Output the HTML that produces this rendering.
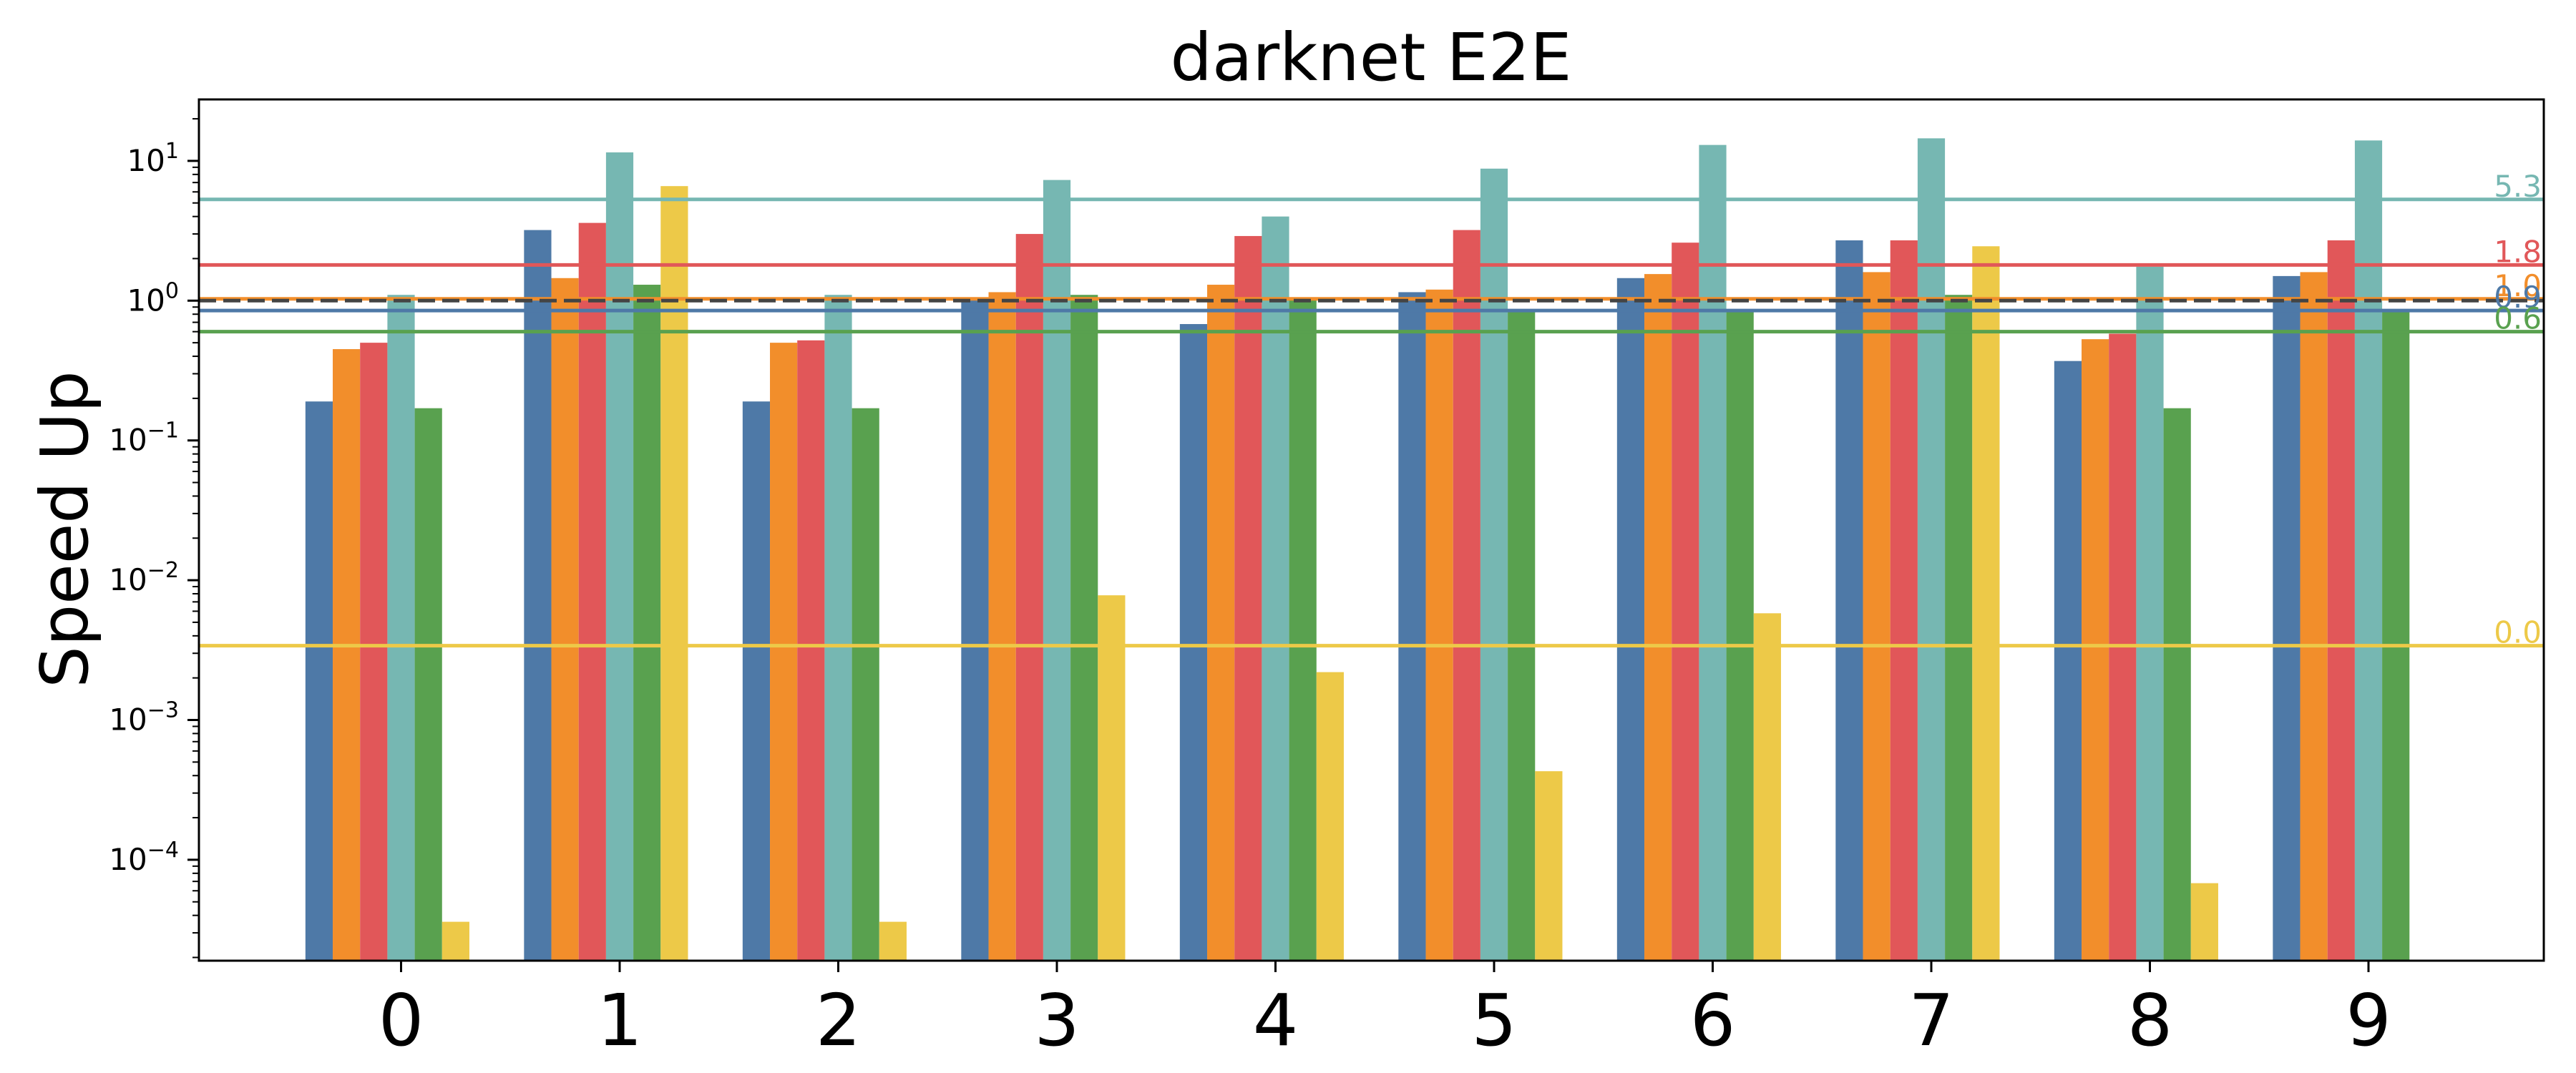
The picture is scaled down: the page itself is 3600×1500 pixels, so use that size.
<!DOCTYPE html>
<html><head><meta charset="utf-8"><style>
html,body{margin:0;padding:0;background:#fff;}
svg{display:block;font-family:"DejaVu Sans","Liberation Sans",sans-serif;}
</style></head><body>
<svg id="chart" width="3600" height="1500" xmlns="http://www.w3.org/2000/svg">
<text x="1916" y="112" font-size="92" text-anchor="middle">darknet E2E</text>
<text x="0" y="0" font-size="92" text-anchor="middle" transform="translate(122,740) rotate(-90)">Speed Up</text>
<g id="bars"></g>
<g id="hlines"></g>
<g id="axes"></g>
</svg>
<script>
const categories = ["0","1","2","3","4","5","6","7","8","9"];
const seriesBlue   = [0.19, 3.2, 0.19, 1.05, 0.68, 1.15, 1.45, 2.7, 0.37, 1.5];
const seriesOrange = [0.45, 1.45, 0.5, 1.15, 1.3, 1.2, 1.55, 1.6, 0.53, 1.6];
const seriesRed    = [0.5, 3.6, 0.52, 3.0, 2.9, 3.2, 2.6, 2.7, 0.58, 2.7];
const seriesTeal   = [1.1, 11.5, 1.1, 7.3, 4.0, 8.8, 13, 14.5, 1.75, 14];
const seriesGreen  = [0.17, 1.3, 0.17, 1.1, 1.05, 0.85, 0.85, 1.1, 0.17, 0.85];
const seriesYellow = [3.6e-5, 6.6, 3.6e-5, 0.0078, 0.0022, 0.00043, 0.0058, 2.45, 6.8e-5, null];
const meanValues = [0.85, 1.03, 1.8, 5.3, 0.6, 0.0034];
const meanLabels = ["0.9", "1.0", "1.8", "5.3", "0.6", "0.0"];
const yTickExps = [-4, -3, -2, -1, 0, 1];

const colors = ["#4e79a7","#f28e2b","#e15759","#76b7b2","#59a14f","#edc948"];
const seriesNames = ["blue","orange","red","teal","green","yellow"];
const allSeries = [seriesBlue, seriesOrange, seriesRed, seriesTeal, seriesGreen, seriesYellow];

const NS = "http://www.w3.org/2000/svg";
const L = 278, R = 3555, T = 139, B = 1343;
const x0 = 560.5, dx = 305.5, bw = 38.19;
const y0 = 420.3, dec = 195.4;
function xScale(i){ return x0 + i*dx; }
function yScale(v){ return y0 - dec*Math.log10(v); }
function mk(tag, attrs, parent){ const e=document.createElementNS(NS,tag); for(const k in attrs) e.setAttribute(k,attrs[k]); parent.appendChild(e); return e; }

const gb = document.getElementById('bars');
allSeries.forEach((s, si) => {
  s.forEach((v, ci) => {
    if (v === null || v === undefined) return;
    const xl = xScale(ci) + (si - 3.5) * bw;
    const yt = Math.max(T, yScale(v));
    const r = mk('rect', {x: xl, y: yt, width: bw, height: B - yt, fill: colors[si]}, gb);
    
    
  });
});

const gh = document.getElementById('hlines');
const lineOrder = [3, 2, 1, 0, 4, 5];
lineOrder.forEach(si => {
  const y = yScale(meanValues[si]);
  const ln = mk('line', {x1: L, x2: R, y1: y, y2: y, stroke: colors[si], 'stroke-width': 5}, gh);
  
  
});
{
  const y = yScale(1);
  const d = mk('line', {x1: L, x2: R, y1: y, y2: y, stroke: '#444', 'stroke-width': 5, 'stroke-dasharray': '24,10'}, gh);
  
  
}
lineOrder.forEach(si => {
  const y = yScale(meanValues[si]);
  const t = mk('text', {x: R - 3, y: y - 4, 'font-size': 42, 'text-anchor': 'end', fill: colors[si]}, gh);
  t.textContent = meanLabels[si];
  
  
});

const ga = document.getElementById('axes');
const frame = mk('rect', {x: L, y: T, width: R - L, height: B - T, fill: 'none', stroke: '#000', 'stroke-width': 3}, ga);



categories.forEach((c, i) => {
  const x = xScale(i);
  mk('line', {x1: x, x2: x, y1: B, y2: B + 16, stroke: '#000', 'stroke-width': 3}, ga);
  const t = mk('text', {x: x, y: B + 118, 'font-size': 100, 'text-anchor': 'middle'}, ga);
  t.textContent = c;
  
  
});

for (let e = -5; e <= 1; e++) {
  for (let m = 1; m <= 9; m++) {
    const v = m * Math.pow(10, e);
    const y = yScale(v);
    if (y < T - 1 || y > B + 1) continue;
    mk('line', {x1: L - (m === 1 ? 16 : 9), x2: L, y1: y, y2: y, stroke: '#000', 'stroke-width': m === 1 ? 3 : 2}, ga);
  }
}
yTickExps.forEach(e => {
  const y = yScale(Math.pow(10, e));
  const t = mk('text', {x: 250, y: y + 14, 'font-size': 42, 'text-anchor': 'end'}, ga);
  const base = document.createElementNS(NS, 'tspan');
  base.textContent = '10';
  t.appendChild(base);
  const sup = document.createElementNS(NS, 'tspan');
  sup.setAttribute('dy', '-18');
  sup.setAttribute('font-size', '30');
  sup.textContent = e < 0 ? '\u2212' + (-e) : String(e);
  t.appendChild(sup);
  
  
});
</script>
</body></html>
